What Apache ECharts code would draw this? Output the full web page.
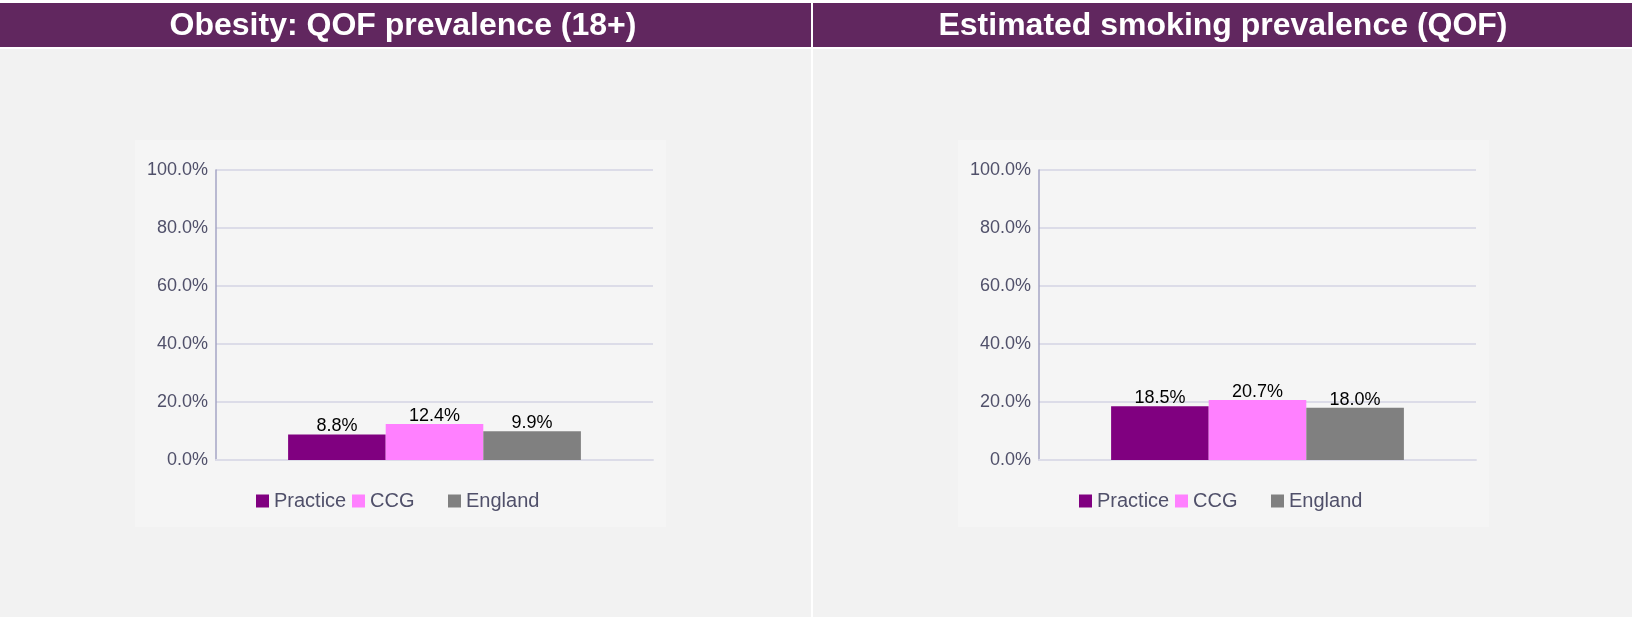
<!DOCTYPE html>
<html>
<head>
<meta charset="utf-8">
<title>Obesity and smoking prevalence</title>
<script src="https://cdn.jsdelivr.net/npm/echarts@6/dist/echarts.min.js"></script>
<style>
  html, body { margin: 0; padding: 0; background: #ffffff; }
  #chart { width: 1632px; height: 617px; }
</style>
</head>
<body>
<div id="chart"></div>
<script>
// data
const titles = ['Obesity: QOF prevalence (18+)', 'Estimated smoking prevalence (QOF)']
const seriesNames = ['Practice', 'CCG', 'England']
const seriesColors = ['#800080', '#ff80ff', '#808080']
const obesity = [8.8, 12.4, 9.9]
const smoking = [18.5, 20.7, 18.0]
const yTicks = [0, 20, 40, 60, 80, 100]

const font = 'Liberation Sans, Arial, sans-serif'
const labelColor = '#50506a'
const panels = [obesity, smoking]
const shift = 823 // right panel is the left one moved across

const chart = echarts.init(document.getElementById('chart'))

const grids = []
const xAxes = []
const yAxes = []
const series = []
const legends = []
const titleList = []
const shapes = []

panels.forEach((values, p) => {
  const dx = p * shift

  // header band + grey page + lighter plot panel
  shapes.push({
    type: 'rect',
    shape: { x: p === 0 ? 0 : 813, y: 3, width: p === 0 ? 811 : 819, height: 44 },
    style: { fill: '#61275f' }
  })
  shapes.push({
    type: 'rect',
    shape: { x: p === 0 ? 0 : 813, y: 49, width: p === 0 ? 811 : 819, height: 568 },
    style: { fill: '#f2f2f2' }
  })
  shapes.push({
    type: 'rect',
    shape: { x: 135 + dx, y: 140, width: 531, height: 387 },
    style: { fill: '#f5f5f5' }
  })

  titleList.push({
    text: titles[p],
    left: p === 0 ? 403 : 1223,
    top: 10,
    padding: 0,
    textAlign: 'center',
    textStyle: { color: '#ffffff', fontSize: 32, fontWeight: 'bold', fontFamily: font, lineHeight: 32 }
  })

  grids.push({ left: 216 + dx, width: 437, top: 170, height: 290, containLabel: false })

  xAxes.push({
    type: 'category',
    gridIndex: p,
    data: [''],
    axisLine: { show: true, lineStyle: { color: '#dcdce8', width: 2 } },
    axisTick: { show: false },
    axisLabel: { show: false }
  })

  yAxes.push({
    type: 'value',
    gridIndex: p,
    min: yTicks[0],
    max: yTicks[yTicks.length - 1],
    interval: yTicks[1] - yTicks[0],
    axisLine: { show: true, lineStyle: { color: '#a4a4c4', width: 1.5 } },
    axisTick: { show: false },
    splitLine: { lineStyle: { color: '#dcdce8', width: 2 } },
    axisLabel: {
      color: labelColor,
      fontSize: 18,
      fontFamily: font,
      margin: 8,
      formatter: v => v.toFixed(1) + '%'
    }
  })

  seriesNames.forEach((name, i) => {
    series.push({
      name: name,
      type: 'bar',
      xAxisIndex: p,
      yAxisIndex: p,
      data: [values[i]],
      barGap: '0%',
      barCategoryGap: '33%',
      itemStyle: { color: seriesColors[i] },
      label: {
        show: true,
        position: 'top',
        distance: -1,
        color: '#000000',
        fontSize: 18,
        fontFamily: font,
        formatter: d => d.value.toFixed(1) + '%'
      }
    })
  })

  legends.push({
    data: seriesNames,
    left: 256 + dx,
    top: 491,
    padding: 0,
    icon: 'rect',
    itemWidth: 13,
    itemHeight: 13,
    itemGap: 5,
    textStyle: { color: labelColor, fontSize: 20, fontFamily: font, width: 73, lineHeight: 20 }
  })
})

const option = {
  animation: false,
  backgroundColor: '#ffffff',
  color: seriesColors,
  graphic: { elements: shapes, z: -10 },
  title: titleList,
  legend: legends,
  grid: grids,
  xAxis: xAxes,
  yAxis: yAxes,
  series: series
}

chart.setOption(option)
window.addEventListener('resize', () => chart.resize())
</script>
</body>
</html>
